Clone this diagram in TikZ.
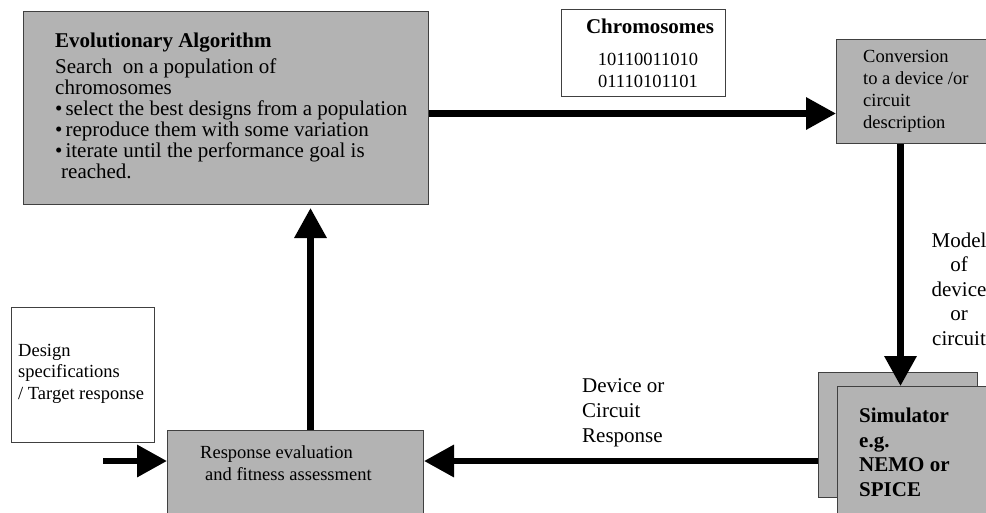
\documentclass[tikz,border=0pt]{standalone}
\usepackage{fontspec}
\setmainfont{Liberation Serif}
\usetikzlibrary{arrows.meta}
\definecolor{boxgray}{RGB}{179,179,179}
\tikzset{
	graybox/.style={draw=black!75, line width=1pt, fill=boxgray, anchor=north west, inner sep=0pt},
	whitebox/.style={draw=black!75, line width=0.8pt, fill=white, anchor=north west, inner sep=0pt},
	flow/.style={line width=6.5pt, -{Triangle[length=30pt, width=31pt]}},
	bigtxt/.style={font=\fontsize{21}{21}\selectfont, align=left, inner sep=0pt, anchor=base west},
	smalltxt/.style={font=\fontsize{18.5}{22}\selectfont, align=left, inner sep=0pt, anchor=base west}
}
\begin{document}
\begin{tikzpicture}[x=1pt, y=-1pt]
		\useasboundingbox[fill=white] (0, 0) rectangle (986, 512);
		\clip (0, 0) rectangle (986, 512);

		\node[graybox, minimum width=405, minimum height=193]	(ea) at (23, 11) {};
		\node[bigtxt] (eatext) at (55, 178) {\textbf{Evolutionary Algorithm}\\[5pt]
			Search\ \ on a population of\\
			chromosomes\\
			\textbullet\hspace{3pt}select the best designs from a population\\
			\textbullet\hspace{3pt}reproduce them with some variation\\
			\textbullet\hspace{3pt}iterate until the performance goal is\\
			\hspace*{6pt}reached.};

		\node[whitebox, minimum width=164, minimum height=87]	(chrom) at (561, 9) {};
		\node[font=\fontsize{21}{21}\selectfont\bfseries, inner sep=0pt, anchor=base] (chromtitle) at (650, 33) {Chromosomes};
		\node[font=\fontsize{18.5}{22}\selectfont, align=center, inner sep=0pt, anchor=base] (chrombits) at (648, 87) {10110011010\\ 01110101101};

		\node[graybox, minimum width=180, minimum height=104]	(conv) at (836, 39) {};
		\node[smalltxt] (convtext) at (863, 128) {Conversion\\ to a device /or\\ circuit\\ description};

		\node[graybox, minimum width=159, minimum height=125]	(simback) at (818, 372) {};
		\node[graybox, minimum width=180, minimum height=150]	(simfront) at (837, 386) {};
		\node[bigtxt, font=\fontsize{21}{24.5}\selectfont\bfseries] (simtext) at (859, 496) {Simulator\\ e.g.\\ NEMO or\\ SPICE};

		\node[whitebox, minimum width=143, minimum height=135]	(spec) at (11, 307) {};
		\node[smalltxt, font=\fontsize{18.5}{21.5}\selectfont] (spectext) at (18, 399) {Design\\ specifications\\ / Target response};

		\node[graybox, minimum width=256, minimum height=120]	(resp) at (167, 430) {};
		\node[smalltxt] (resptext) at (200, 480) {Response evaluation\\ \hspace*{5pt}and fitness assessment};

		\node[bigtxt, font=\fontsize{21}{24.5}\selectfont, align=center, anchor=base] (model) at (959, 345) {Model\\ of\\ device\\ or\\ circuit};
		\node[bigtxt, font=\fontsize{21}{25}\selectfont] (devresp) at (582, 442) {Device or\\ Circuit\\ Response};

		\coordinate (respin) at ([yshift=-31pt]resp.north east);
		\coordinate (specin) at (103, 461);

		\draw[flow]	([yshift=-5.5pt]ea.east) -- ([yshift=-5.5pt]ea.east -| conv.west);
		\draw[flow]	([xshift=2.5pt]simback.north |- conv.south) -- ([xshift=2.5pt]simback.north |- simfront.north);
		\draw[flow]	(simback.west |- respin) -- (respin);
		\draw[flow]	(specin) -- (specin -| resp.west);
		\draw[flow]	([xshift=15pt]resp.north) -- ([xshift=15pt, yshift=-3pt]resp.north |- ea.south);
	\end{tikzpicture}
\end{document}
